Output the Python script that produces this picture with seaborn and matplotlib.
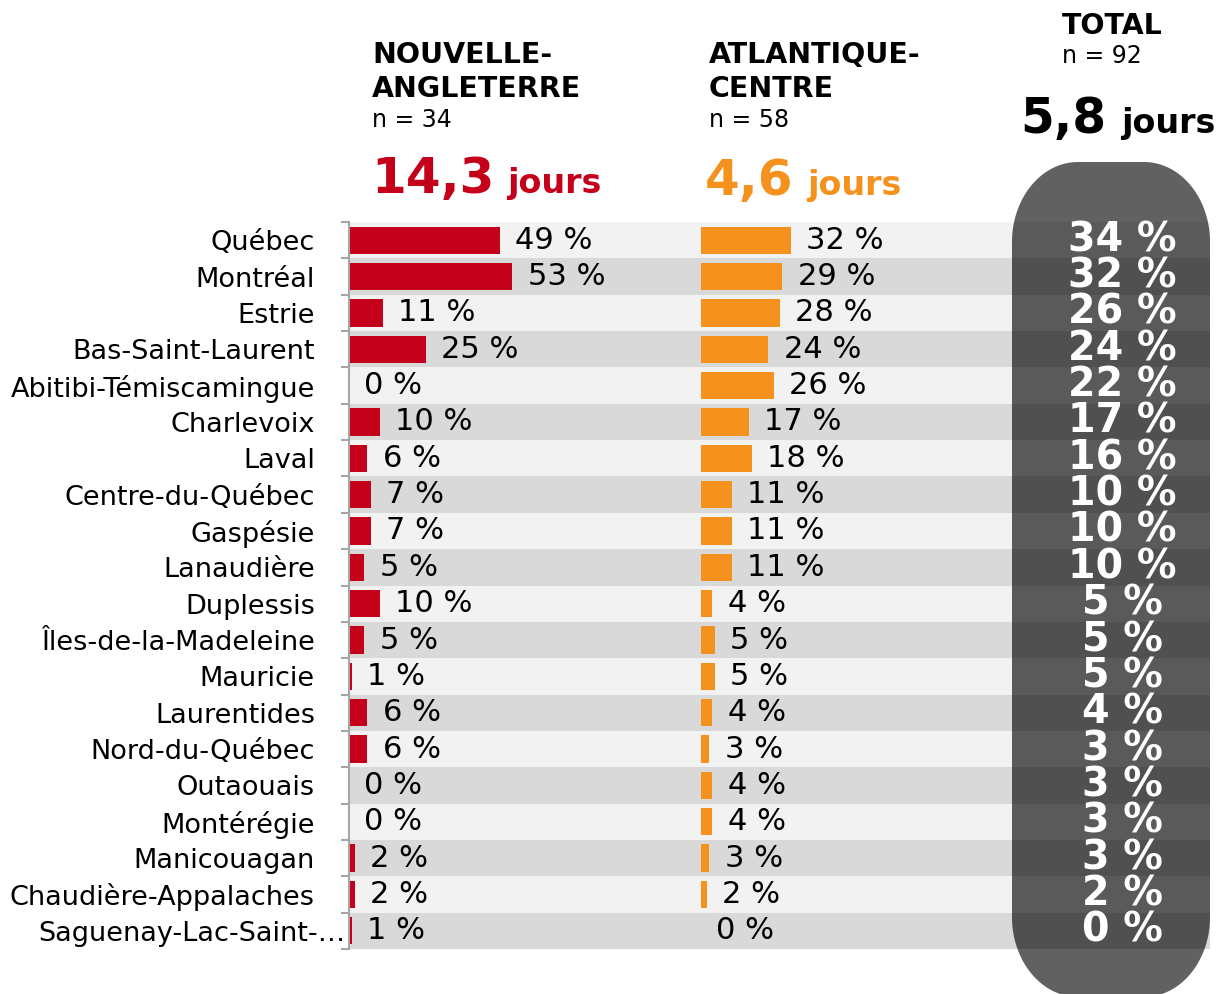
import numpy as np
import pandas as pd
import matplotlib
matplotlib.use("Agg")
import matplotlib.pyplot as plt
import matplotlib.transforms as mtransforms
from matplotlib.patches import PathPatch
from matplotlib.path import Path
import seaborn as sns

# ---------------- data ----------------
regions = ["Québec", "Montréal", "Estrie", "Bas-Saint-Laurent", "Abitibi-Témiscamingue",
           "Charlevoix", "Laval", "Centre-du-Québec", "Gaspésie", "Lanaudière",
           "Duplessis", "Îles-de-la-Madeleine", "Mauricie", "Laurentides", "Nord-du-Québec",
           "Outaouais", "Montérégie", "Manicouagan", "Chaudière-Appalaches",
           "Saguenay-Lac-Saint-…"]
nouvelle_angleterre = [49, 53, 11, 25, 0, 10, 6, 7, 7, 5, 10, 5, 1, 6, 6, 0, 0, 2, 2, 1]
atlantique_centre = [32, 29, 28, 24, 26, 17, 18, 11, 11, 11, 4, 5, 5, 4, 3, 4, 4, 3, 2, 0]
total = [34, 32, 26, 24, 22, 17, 16, 10, 10, 10, 5, 5, 5, 4, 3, 3, 3, 3, 2, 0]

group_titles = [["NOUVELLE-", "ANGLETERRE"], ["ATLANTIQUE-", "CENTRE"], ["TOTAL"]]
group_n = ["n = 34", "n = 58", "n = 92"]
group_days = ["14,3", "4,6", "5,8"]
days_unit = "jours"

# ---------------- style ----------------
sns.set_style("white")
plt.rcParams["font.family"] = ["DejaVu Sans"]
plt.rcParams["text.color"] = "black"
plt.rcParams["ytick.labelcolor"] = "black"

RED = "#c5001a"
ORANGE = "#f5921e"
LIGHT = "#f2f2f2"
DARK = "#d9d9d9"
PILL = "#616161"
SPINE = "#a6a6a6"

W, H = 1217, 994
fig = plt.figure(figsize=(W / 100, H / 100), dpi=100)


def fx(px):
    return px / W


def fy(py):
    return 1 - py / H


top, bot = 222, 949
n = len(regions)
ax1 = fig.add_axes([fx(349), fy(bot), (701 - 349) / W, (bot - top) / H])
ax2 = fig.add_axes([fx(701), fy(bot), (1012 - 701) / W, (bot - top) / H])
ax3 = fig.add_axes([fx(1012), fy(bot), (1210 - 1012) / W, (bot - top) / H])

df = pd.DataFrame({"region": regions, "ne": nouvelle_angleterre,
                   "ac": atlantique_centre, "tot": total})

for ax in (ax1, ax2, ax3):
    ax.set_facecolor("none")
    for i in range(n):
        ax.axhspan(i - 0.5, i + 0.5, color=LIGHT if i % 2 == 0 else DARK, lw=0, zorder=0)

# red bars
sns.barplot(data=df, x="ne", y="region", orient="h", color=RED, saturation=1,
            width=0.75, errorbar=None, ax=ax1, zorder=2, linewidth=0, edgecolor="none")
ax1.bar_label(ax1.containers[0], labels=[f"{v} %" for v in nouvelle_angleterre],
              padding=11, fontsize=22, color="black")
# orange bars
sns.barplot(data=df, x="ac", y="region", orient="h", color=ORANGE, saturation=1,
            width=0.75, errorbar=None, ax=ax2, zorder=2, linewidth=0, edgecolor="none")
ax2.bar_label(ax2.containers[0], labels=[f"{v} %" for v in atlantique_centre],
              padding=11, fontsize=22, color="black")

ax1.set_xlim(0, 352 / 3.08)
ax2.set_xlim(0, 311 / 2.81)
for ax in (ax1, ax2, ax3):
    ax.set_ylim(n - 0.5, -0.5)
    ax.set_xlabel("")
    ax.set_ylabel("")

# left axis styling
ax1.set_yticks(range(n))
ax1.set_yticklabels(regions, fontsize=19.5, color="black")
ax1.set_yticks(np.arange(-0.5, n, 1), minor=True)
ax1.tick_params(axis="y", which="major", length=0, pad=24.5, left=True)
ax1.tick_params(axis="y", which="minor", length=6, width=1.5, color=SPINE, left=True)
ax1.tick_params(axis="x", bottom=False, labelbottom=False)
for s in ("top", "right", "bottom"):
    ax1.spines[s].set_visible(False)
ax1.spines["left"].set_color(SPINE)
ax1.spines["left"].set_linewidth(1.5)
lbl = ax1.get_yticklabels()[-1]
lbl.set_transform(lbl.get_transform() +
                  mtransforms.ScaledTranslation(30 / 100, 0, fig.dpi_scale_trans))

ax2.axis("off")

# total column: pill (elliptical corners, in inches) + overlays + labels
ax3.set_xlim(0, 1)
ax3.axis("off")
x0, x1 = 10.12, 12.10
y0, y1 = -0.03, (994 - 162) / 100
rx, ry = 0.66, 0.80
t = np.linspace(0, np.pi / 2, 40)
pts = []
# top-right corner
pts += list(zip(x1 - rx + rx * np.cos(t), y1 - ry + ry * np.sin(t)))
# top-left corner
pts += list(zip(x0 + rx - rx * np.sin(t), y1 - ry + ry * np.cos(t)))
# bottom-left corner
pts += list(zip(x0 + rx - rx * np.cos(t), y0 + ry - ry * np.sin(t)))
# bottom-right corner
pts += list(zip(x1 - rx + rx * np.sin(t), y0 + ry - ry * np.cos(t)))
pts.append(pts[0])
codes = [Path.MOVETO] + [Path.LINETO] * (len(pts) - 2) + [Path.CLOSEPOLY]
pill = PathPatch(Path(np.array(pts), codes), transform=fig.dpi_scale_trans,
                 fc=PILL, ec="none", clip_on=False, zorder=1)
ax3.add_patch(pill)
for i in range(n):
    ov = ax3.axhspan(i - 0.5, i + 0.5, color="black",
                     alpha=0.07 if i % 2 == 0 else 0.17, lw=0, zorder=2)
    ov.set_clip_path(pill)
for i, v in enumerate(total):
    ax3.text((1122 - 1012) / 198, i, f"{v} %", ha="center", va="center",
             color="white", fontsize=28.5, fontweight="bold", zorder=4)
ax3.set_xlim(0, 1)
ax3.set_ylim(n - 0.5, -0.5)


# headers
def ftext(x, y, s, **kw):
    fig.text(fx(x), fy(y), s, va="baseline", ha="left", **kw)


ftext(372, 63, group_titles[0][0], fontsize=20.5, fontweight="bold")
ftext(372, 97, group_titles[0][1], fontsize=20.5, fontweight="bold")
ftext(372, 127, group_n[0], fontsize=17)
ftext(371, 193, group_days[0], fontsize=36, fontweight="bold", color=RED)
ftext(507, 193, days_unit, fontsize=24, fontweight="bold", color=RED)

ftext(709, 63, group_titles[1][0], fontsize=20.5, fontweight="bold")
ftext(709, 97, group_titles[1][1], fontsize=20.5, fontweight="bold")
ftext(709, 127, group_n[1], fontsize=17)
ftext(705, 195, group_days[1], fontsize=36, fontweight="bold", color=ORANGE)
ftext(807, 195, days_unit, fontsize=24, fontweight="bold", color=ORANGE)

ftext(1062, 34, group_titles[2][0], fontsize=20.5, fontweight="bold")
ftext(1062, 63, group_n[2], fontsize=17)
ftext(1020, 133, group_days[2], fontsize=35, fontweight="bold", color="black")
ftext(1121, 133, days_unit, fontsize=24, fontweight="bold", color="black")

fig.savefig("out.png", dpi=100)
